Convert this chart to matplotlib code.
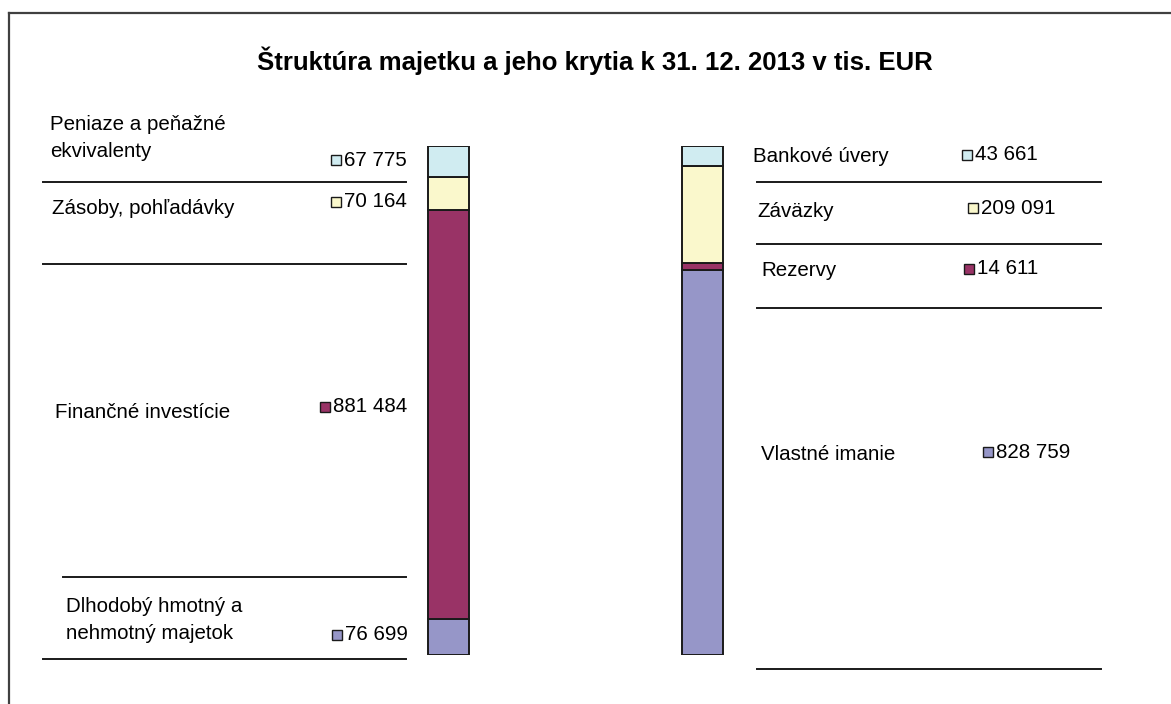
import matplotlib
matplotlib.use("Agg")
import matplotlib.pyplot as plt
from matplotlib.lines import Line2D
from matplotlib.patches import Rectangle

plt.rcParams['font.family'] = ['Liberation Sans', 'DejaVu Sans']

title = "Štruktúra majetku a jeho krytia k 31. 12. 2013 v tis. EUR"
bars = ["Aktíva", "Pasíva"]

assets_labels = ["Dlhodobý hmotný a\nnehmotný majetok", "Finančné investície",
                 "Zásoby, pohľadávky", "Peniaze a peňažné\nekvivalenty"]
assets_values = [76699, 881484, 70164, 67775]
assets_texts = ["76 699", "881 484", "70 164", "67 775"]

liab_labels = ["Vlastné imanie", "Rezervy", "Záväzky", "Bankové úvery"]
liab_values = [828759, 14611, 209091, 43661]
liab_texts = ["828 759", "14 611", "209 091", "43 661"]

colors = ["#9696C8", "#993366", "#FAF8CC", "#D0ECF1"]

W, H = 1171, 704
fig = plt.figure(figsize=(W / 100, H / 100), dpi=100)
fig.patch.set_facecolor("white")

def fx(px):
    return px / W

def fy(py):
    return 1 - py / H

# frame (top and left edges)
fig.add_artist(Line2D([fx(9), fx(9)], [fy(13), fy(H + 5)], color="#404040", lw=1.6))
fig.add_artist(Line2D([fx(9), fx(W + 5)], [fy(13), fy(13)], color="#404040", lw=1.6))

# bar axes: centers at px 448.5 and 702.5, bottom px 655, top px 146
spacing = 254
left_px = 448.5 - spacing / 2
ax = fig.add_axes([fx(left_px), fy(655), 2 * spacing / W, 509 / H])
ax.set_xlim(-0.5, 1.5)
total = sum(assets_values)
ax.set_ylim(0, total)
ax.axis("off")
width = 41 / spacing
for i, vals in enumerate([assets_values, liab_values]):
    bottom = 0
    for v, c in zip(vals, colors):
        ax.bar(i, v, width=width, bottom=bottom, color=c, edgecolor="#1a1a1a", linewidth=1.4)
        bottom += v

fig.text(fx(595), fy(61), title, ha="center", va="center", fontsize=18.5, fontweight="bold")

fs = 14.8
# left labels (top to bottom order)
left_label_pos = [(66, 620), (55, 413), (52, 208), (50, 138)]
left_val_pos = [(332, 635), (320, 407), (331, 202), (331, 160)]
for lbl, txt, c, (lx, ly), (vx, vy) in zip(assets_labels, assets_texts, colors,
                                           left_label_pos, left_val_pos):
    fig.text(fx(lx), fy(ly), lbl, ha="left", va="center", fontsize=fs, linespacing=1.55)
    fig.add_artist(Rectangle((fx(vx), fy(vy + 5)), 10 / W, 10 / H, facecolor=c,
                             edgecolor="#1a1a1a", lw=1.0, transform=fig.transFigure))
    fig.text(fx(vx + 13), fy(vy), txt, ha="left", va="center", fontsize=fs)

right_label_pos = [(761, 455), (761, 270), (757, 211), (753, 157)]
right_val_pos = [(983, 452), (964, 269), (968, 208), (962, 155)]
for lbl, txt, c, (lx, ly), (vx, vy) in zip(liab_labels, liab_texts, colors,
                                           right_label_pos, right_val_pos):
    fig.text(fx(lx), fy(ly), lbl, ha="left", va="center", fontsize=fs)
    fig.add_artist(Rectangle((fx(vx), fy(vy + 5)), 10 / W, 10 / H, facecolor=c,
                             edgecolor="#1a1a1a", lw=1.0, transform=fig.transFigure))
    fig.text(fx(vx + 13), fy(vy), txt, ha="left", va="center", fontsize=fs)

# separator lines
for x0, x1, y in [(43, 406, 182), (43, 406, 264), (63, 406, 577), (43, 406, 659),
                  (757, 1101, 182), (757, 1101, 244), (757, 1101, 308), (757, 1101, 669)]:
    fig.add_artist(Line2D([fx(x0), fx(x1)], [fy(y), fy(y)], color="#1a1a1a", lw=1.4))

fig.savefig("out.png", dpi=100)
